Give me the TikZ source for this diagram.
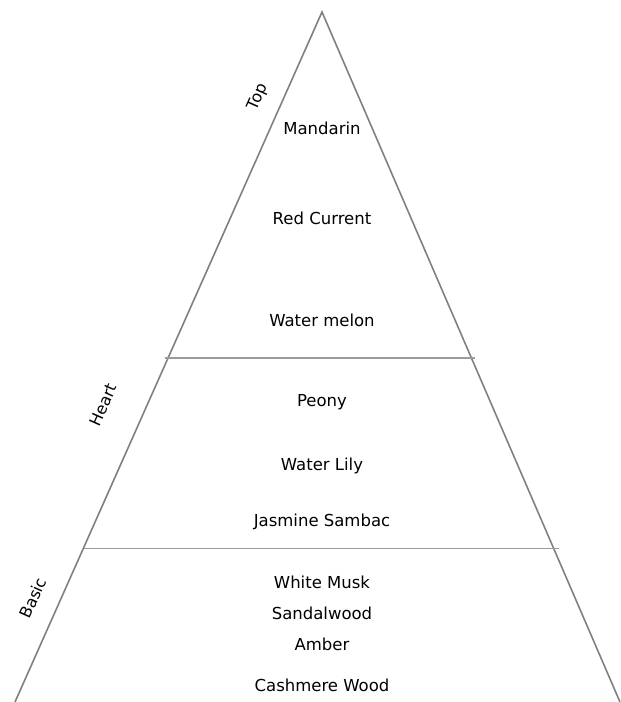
\documentclass[tikz,border=0pt]{standalone}
\usepackage{fontspec}
\setmainfont{DejaVu Sans}
\usepackage{tikz}
\usetikzlibrary{calc}
\definecolor{sidegray}{HTML}{808080}
\definecolor{bandgray}{HTML}{9A9A9A}
\tikzset{
	side/.style={draw=sidegray, line width=1.6pt},
	band/.style={draw=bandgray, line width=1.1pt},
	note/.style={font=\fontsize{16.5}{19}\selectfont, text=black, inner sep=0pt},
	layer/.style={font=\fontsize{16}{19}\selectfont, text=black, inner sep=0pt, rotate=66}
}
\begin{document}
\begin{tikzpicture}[x=1pt, y=-1pt]
		\useasboundingbox (0,0) rectangle (621,702);
		% Pyramid
		\coordinate (apex) at (322, 12);
		\coordinate (bl) at (15, 702);
		\coordinate (br) at (620, 702);
		\draw[side] (bl) -- (apex) -- (br);
		
		% Layer borders
		\coordinate (topL) at ($(apex)!0.5014!(bl) + (-3,0)$);
		\coordinate (topR) at ($(apex)!0.5014!(br) + (4,0)$);
		\coordinate (midL) at ($(apex)!0.778!(bl) + (1,0)$);
		\coordinate (midR) at ($(apex)!0.778!(br) + (5,0)$);
		\draw[band] (topL) -- (topR);
		\draw[band] (midL) -- (midR);
		
		% Layer names
		\node[layer] (top) at (258, 97) {Top};
		\node[layer] (heart) at (103, 405) {Heart};
		\node[layer] (basic) at (33, 598) {Basic};
		
		% Notes
		\foreach \name/\y/\txt in {mandarin/128/Mandarin, redcurrent/218/Red Current,
			watermelon/320/Water melon, peony/402/Peony, waterlily/466/Water Lily,
			jasmine/522/Jasmine Sambac, musk/582/White Musk, sandal/613/Sandalwood,
			amber/644/Amber, cashmere/685/Cashmere Wood}{
			\node[note] (\name) at (322, \y) {\txt};
		}
	\end{tikzpicture}
\end{document}
